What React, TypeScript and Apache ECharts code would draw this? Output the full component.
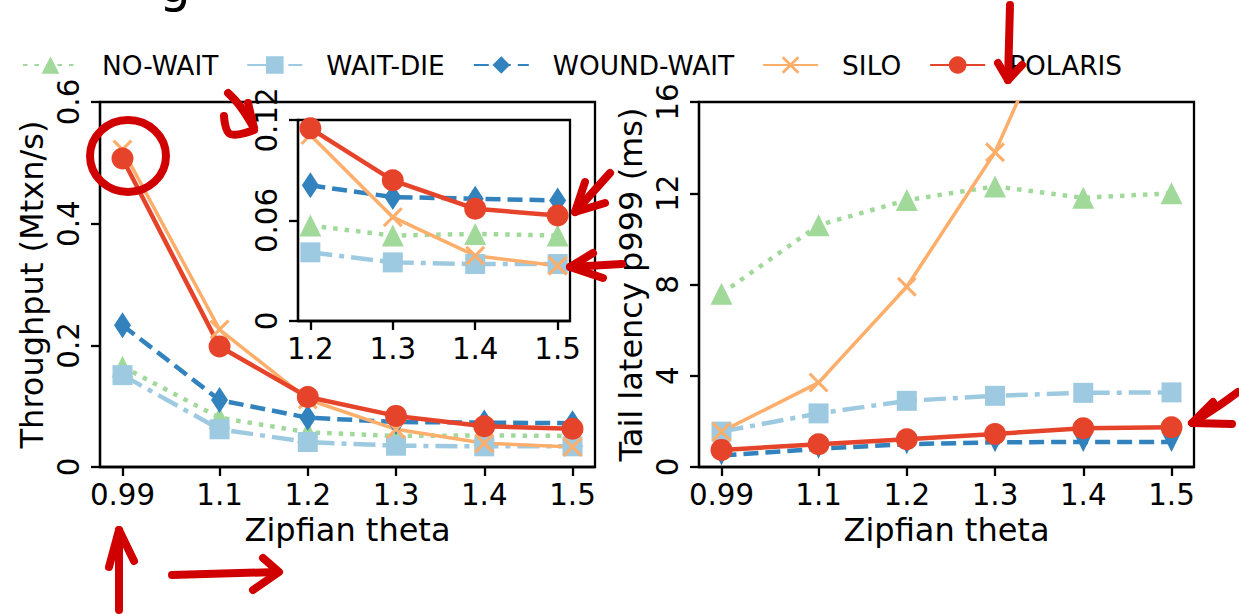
import React, { useEffect, useRef } from 'react';
import * as echarts from 'echarts';

const thetas = [0.99, 1.1, 1.2, 1.3, 1.4, 1.5];
const thetaLabels = ['0.99', '1.1', '1.2', '1.3', '1.4', '1.5'];
const insetThetas = [1.2, 1.3, 1.4, 1.5];
const insetThetaLabels = ['1.2', '1.3', '1.4', '1.5'];
const seriesNames = ['NO-WAIT', 'WAIT-DIE', 'WOUND-WAIT', 'SILO', 'POLARIS'];

// Throughput (Mtxn/s)
const tputNoWait = [0.165, 0.081, 0.057, 0.051, 0.052, 0.051];
const tputWaitDie = [0.151, 0.062, 0.041, 0.035, 0.034, 0.034];
const tputWoundWait = [0.233, 0.110, 0.081, 0.074, 0.073, 0.072];
const tputSilo = [0.522, 0.226, 0.111, 0.062, 0.039, 0.033];
const tputPolaris = [0.507, 0.198, 0.115, 0.084, 0.067, 0.063];

// Tail latency p999 (ms)
const latNoWait = [7.6, 10.6, 11.7, 12.3, 11.8, 12.0];
const latWaitDie = [1.55, 2.35, 2.9, 3.12, 3.25, 3.27];
const latWoundWait = [0.5, 0.8, 1.0, 1.08, 1.1, 1.1];
const latSilo = [1.55, 3.7, 7.9, 13.8, 22.5, 30];
const latPolaris = [0.75, 1.0, 1.22, 1.45, 1.7, 1.74];

const throughput = [tputNoWait, tputWaitDie, tputWoundWait, tputSilo, tputPolaris];
const latency = [latNoWait, latWaitDie, latWoundWait, latSilo, latPolaris];

const FONT = 'DejaVu Sans';
const X_PATH = 'path://M0,1.1L1.1,0L5,3.9L8.9,0L10,1.1L6.1,5L10,8.9L8.9,10L5,6.1L1.1,10L0,8.9L3.9,5Z';
const VTRI = 'path://M0,0L10,0L5,10Z';
const RED = '#d10000';

const looks: any[] = [
  { color: '#a1d99b', symbol: 'triangle', size: 22, dash: [4.5, 7], width: 4.5 },
  { color: '#9ecae1', symbol: 'rect', size: 20, dash: [22, 7, 5, 7], width: 4.5 },
  { color: '#3182bd', symbol: 'diamond', size: [17, 26], dash: [15, 7], width: 4.5 },
  { color: '#fdae6b', symbol: X_PATH, size: 20, dash: 'solid', width: 3.5 },
  { color: '#e6432b', symbol: 'circle', size: 22, dash: 'solid', width: 4.5 },
];

function mk(i: number, xs: number[], ys: number[], gi: number, symbol?: string, size?: any) {
  const lk = looks[i];
  return {
    type: 'line',
    name: seriesNames[i],
    xAxisIndex: gi,
    yAxisIndex: gi,
    data: xs.map((x, k) => [x, ys[k]]),
    symbol: symbol || lk.symbol,
    symbolSize: size || lk.size,
    showAllSymbol: true,
    clip: true,
    lineStyle: { color: lk.color, width: lk.width, type: lk.dash, cap: 'butt' },
    itemStyle: { color: lk.color, borderWidth: 0 },
    emphasis: { disabled: true },
  };
}

function labelFor(values: number[], labels: string[]) {
  return (v: number) => {
    for (let i = 0; i < values.length; i++) if (Math.abs(values[i] - v) < 1e-6) return labels[i];
    return '';
  };
}

const axisLineStyle = { color: '#000', width: 2.3 };

function xAx(gi: number, min: number, max: number, vals: number[], labs: string[], withName: boolean) {
  return {
    type: 'value',
    gridIndex: gi,
    min,
    max,
    axisLine: { show: true, onZero: false, lineStyle: axisLineStyle },
    axisTick: { show: true, customValues: vals, length: 9, lineStyle: axisLineStyle },
    axisLabel: {
      customValues: vals,
      formatter: labelFor(vals, labs),
      fontSize: 29.3,
      color: '#000',
      fontFamily: FONT,
      margin: 13,
    },
    splitLine: { show: false },
    name: withName ? 'Zipfian theta' : '',
    nameLocation: 'middle',
    nameGap: 46,
    nameTextStyle: { fontSize: 32, color: '#000', fontFamily: FONT },
  };
}

function yAx(gi: number, max: number, interval: number, name: string) {
  return {
    type: 'value',
    gridIndex: gi,
    min: 0,
    max,
    interval,
    axisLine: { show: true, lineStyle: axisLineStyle },
    axisTick: { show: true, length: 9, lineStyle: axisLineStyle },
    axisLabel: { rotate: 90, fontSize: 29.3, color: '#000', fontFamily: FONT, margin: 17 },
    splitLine: { show: false },
    name,
    nameLocation: 'middle',
    nameGap: 52,
    nameTextStyle: { fontSize: 32, color: '#000', fontFamily: FONT },
  };
}

function stroke(points: number[][], smooth = 0) {
  return {
    type: 'polyline',
    z: 100,
    shape: { points, smooth },
    style: { stroke: RED, lineWidth: 8, fill: 'none', lineCap: 'round', lineJoin: 'round' },
  };
}

export default function App() {
  const ref = useRef<HTMLDivElement>(null);
  useEffect(() => {
    document.body.style.margin = '0';
    const chart = echarts.init(ref.current!, null, { renderer: 'svg' });
    const series: any[] = [];
    for (let i = 0; i < 5; i++) series.push(mk(i, thetas, throughput[i], 0));
    for (let i = 0; i < 5; i++) series.push(mk(i, insetThetas, throughput[i].slice(2), 1));
    for (let i = 0; i < 5; i++)
      series.push(i === 2 ? mk(i, thetas, latency[i], 2, VTRI, 20) : mk(i, thetas, latency[i], 2));

    chart.setOption({
      animation: false,
      backgroundColor: '#fff',
      textStyle: { fontFamily: FONT },
      legend: {
        data: seriesNames,
        left: 17,
        top: 47,
        itemWidth: 55,
        itemHeight: 22,
        itemGap: 28,
        selectedMode: false,
        textStyle: { fontSize: 26.4, color: '#000', fontFamily: FONT, padding: [0, 0, 0, 19] },
      },
      grid: [
        { left: 100, top: 102, width: 495, height: 365, show: true, borderColor: '#000', borderWidth: 2.3, backgroundColor: '#fff' },
        { left: 298, top: 120, width: 272, height: 201, show: true, borderColor: '#000', borderWidth: 2.3, backgroundColor: '#fff' },
        { left: 699, top: 102, width: 495, height: 365, show: true, borderColor: '#000', borderWidth: 2.3, backgroundColor: '#fff' },
      ],
      xAxis: [
        xAx(0, 0.9645, 1.5255, thetas, thetaLabels, true),
        xAx(1, 1.185, 1.515, insetThetas, insetThetaLabels, false),
        xAx(2, 0.9645, 1.5255, thetas, thetaLabels, true),
      ],
      yAxis: [
        yAx(0, 0.6, 0.2, 'Throughput (Mtxn/s)'),
        yAx(1, 0.12, 0.06, ''),
        yAx(2, 16, 4, 'Tail latency p999 (ms)'),
      ],
      series,
      graphic: [
        { type: 'text', x: 159, y: -15, z: 100, style: { text: 'g', fontSize: 50, fontFamily: FONT, fill: '#000', verticalAlign: 'middle' } },
        { type: 'ellipse', z: 100, shape: { cx: 128, cy: 156, rx: 38, ry: 36 }, style: { stroke: RED, lineWidth: 8, fill: 'none' } },
        stroke([[228, 93], [240, 106], [254, 128]], 0.4),
        stroke([[248, 103], [254, 128]]),
        stroke([[224, 116], [230, 134], [254, 130]], 0.4),
        stroke([[610, 173], [575, 212]]),
        stroke([[585, 182], [575, 212], [605, 203]]),
        stroke([[622, 264], [570, 267]]),
        stroke([[593, 253], [570, 267], [603, 278]]),
        stroke([[1238, 392], [1217, 407], [1192, 423]], 0.4),
        stroke([[1213, 402], [1192, 423], [1232, 424]]),
        stroke([[1010, 5], [1008, 80]]),
        stroke([[998, 63], [1008, 80], [1022, 65]]),
        stroke([[119, 610], [119, 530]]),
        stroke([[109, 567], [119, 530], [134, 561]]),
        stroke([[172, 575], [277, 572]]),
        stroke([[263, 558], [279, 572], [253, 590]]),
      ],
    });
    return () => chart.dispose();
  }, []);
  return <div ref={ref} style={{ width: 1239, height: 614 }} />;
}
